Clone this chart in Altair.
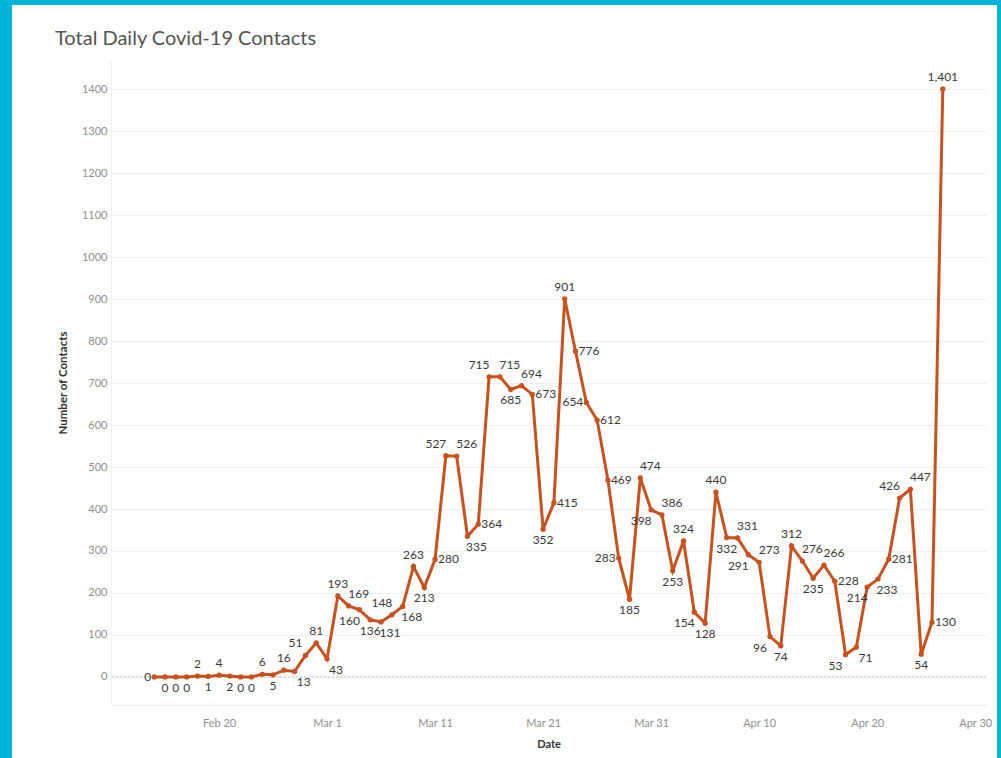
import altair as alt
import pandas as pd

# ---- data ----
start_date = "2020-02-14"
feb_values = [0, 0, 0, 0, 2, 1, 4, 2, 0, 0, 6, 5, 16, 13, 51, 81]  # Feb 14 - Feb 29
mar_values = [43, 193, 169, 160, 136, 131, 148, 168, 263, 213, 280, 527, 526, 335, 364, 715,
              715, 685, 694, 673, 352, 415, 901, 776, 654, 612, 469, 283, 185, 474, 398]
apr_values = [386, 253, 324, 154, 128, 440, 332, 331, 291, 273, 96, 74, 312, 276, 235, 266,
              228, 53, 71, 214, 233, 281, 426, 447, 54, 130, 1401]  # Apr 1 - Apr 27
contacts = feb_values + mar_values + apr_values

# label side per point: a above, b below, r right, l left,
# p above-left, q above-right, m below-left, n below-right
feb_sides = ["l", "b", "b", "b", "a", "b", "a", "b", "b", "b", "a", "b", "a", "n", "p", "a"]
mar_sides = ["n", "a", "q", "m", "b", "n", "p", "n", "a", "b", "r", "p", "q", "n", "r", "p",
             "q", "b", "q", "r", "b", "r", "a", "r", "l", "r", "r", "l", "b", "q", "m"]
apr_sides = ["q", "b", "a", "m", "b", "a", "b", "q", "m", "q", "m", "b", "a", "q", "b", "q",
             "r", "m", "n", "m", "n", "r", "p", "q", "b", "r", "a"]
label_side = feb_sides + mar_sides + apr_sides

y_ticks = list(range(0, 1401, 100))
x_tick_dates = [(2, 20), (3, 1), (3, 11), (3, 21), (3, 31), (4, 10), (4, 20), (4, 30)]
title_text = "Total Daily Covid-19 Contacts"

dates = pd.date_range(start_date, periods=len(contacts), freq="D").strftime("%Y-%m-%d")
df = pd.DataFrame({"date": dates, "contacts": contacts, "side": label_side})

LINE = "#C7521D"
CYAN = "#00B4D8"
FONT = "Lato"
Y_SCALE = alt.Scale(domain=[-67, 1470], nice=False, zero=False)

x_enc = alt.X(
    "date:T",
    title="Date",
    scale=alt.Scale(
        type="utc",
        domain=[alt.DateTime(year=2020, month=2, date=10, utc=True),
                alt.DateTime(year=2020, month=5, date=1, utc=True)],
    ),
    axis=alt.Axis(
        values=[alt.DateTime(year=2020, month=m, date=d, utc=True) for m, d in x_tick_dates],
        labelExpr="utcFormat(datum.value, '%b %-d')",
        grid=False, ticks=False,
        domainColor="#d9d9d9", domainDash=[2, 2],
        labelColor="#8f8f8f", labelFontSize=11, labelFont=FONT, labelPadding=12,
        titleColor="#333333", titleFontSize=11, titleFont=FONT, titleFontWeight="bold",
        titlePadding=10,
    ),
)
y_enc = alt.Y(
    "contacts:Q",
    title="Number of Contacts",
    scale=Y_SCALE,
    axis=alt.Axis(
        values=y_ticks, format="d", grid=True, gridColor="#efefef", ticks=False,
        domainColor="#f0f0f0",
        labelColor="#8f8f8f", labelFontSize=11, labelFont=FONT, labelPadding=4,
        titleColor="#333333", titleFontSize=11.5, titleFont=FONT, titleFontWeight="bold",
        titlePadding=13,
    ),
)

base = alt.Chart(df)
one = pd.DataFrame({"k": [0]})

# cyan frame strips (left, top, right)
strip_left = alt.Chart(one).mark_rect(color=CYAN).encode(
    x=alt.value(-111), x2=alt.value(-99), y=alt.value(-60), y2=alt.value(698))
strip_top = alt.Chart(one).mark_rect(color=CYAN).encode(
    x=alt.value(-111), x2=alt.value(890), y=alt.value(-60), y2=alt.value(-55))
strip_right = alt.Chart(one).mark_rect(color=CYAN).encode(
    x=alt.value(886), x2=alt.value(890), y=alt.value(-60), y2=alt.value(698))

title = alt.Chart(pd.DataFrame({"t": [title_text]})).mark_text(
    font=FONT, fontSize=20, color="#555555", align="left", baseline="alphabetic"
).encode(x=alt.value(-56), y=alt.value(-15), text="t:N")

zero_rule = alt.Chart(pd.DataFrame({"z": [0]})).mark_rule(
    color="#c8c8c8", strokeDash=[2, 2], strokeWidth=1
).encode(y=alt.Y("z:Q", scale=Y_SCALE))

line = base.mark_line(color=LINE, strokeWidth=3).encode(x=x_enc, y=y_enc)
points = base.mark_circle(color=LINE, size=28, opacity=1).encode(x="date:T", y="contacts:Q")


def labels(sides, **kw):
    return base.transform_filter(
        alt.FieldOneOfPredicate(field="side", oneOf=sides)
    ).mark_text(font=FONT, fontSize=12, color="#3a3a3a", **kw).encode(
        x="date:T", y="contacts:Q", text=alt.Text("contacts:Q", format=",")
    )


lab_a = labels(["a"], baseline="bottom", dy=-5)
lab_b = labels(["b"], baseline="top", dy=6)
lab_p = labels(["p"], baseline="bottom", dy=-5, dx=-10)
lab_q = labels(["q"], baseline="bottom", dy=-5, dx=10)
lab_m = labels(["m"], baseline="top", dy=6, dx=-10)
lab_n = labels(["n"], baseline="top", dy=6, dx=9)
lab_r = labels(["r"], align="left", dx=3, baseline="middle")
lab_l = labels(["l"], align="right", dx=-3, baseline="middle")

chart = alt.layer(
    strip_left, strip_top, strip_right, title, zero_rule, line, points,
    lab_a, lab_b, lab_p, lab_q, lab_m, lab_n, lab_r, lab_l,
).properties(
    width=875,
    height=645,
    padding={"left": 111, "top": 60, "right": 15, "bottom": 53},
    autosize=alt.AutoSizeParams(type="none"),
    background="white",
).configure_view(stroke=None)

chart.save("out.html", embed_options={"renderer": "svg", "actions": False})
